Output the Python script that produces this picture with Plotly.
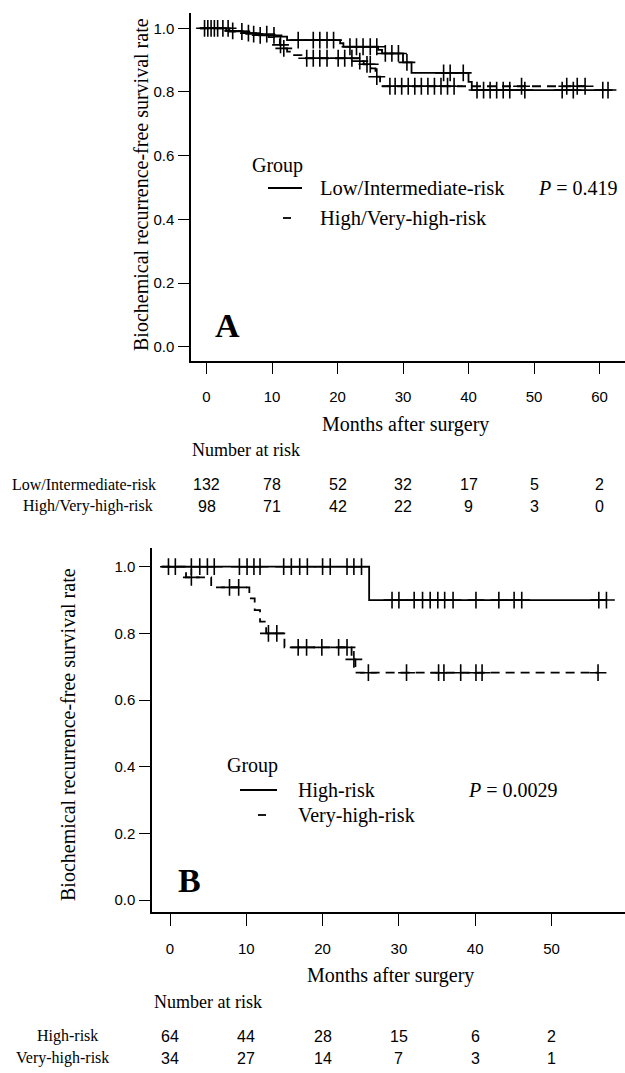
import plotly.graph_objects as go

W, H = 625, 1073

# ---------------- Panel A data ----------------
a_li_times = [-1.0, 3.0, 5.5, 8.0, 10.5, 12.3, 20.4, 20.9, 26.2, 26.8, 30.0, 31.3, 40.0, 40.5]
a_li_surv = [1.0, 0.992, 0.985, 0.978, 0.974, 0.963, 0.953, 0.942, 0.932, 0.921, 0.893, 0.860, 0.832, 0.806]
a_li_end = 62.0
a_li_cens = [-0.3, 0.7, 1.7, 2.5, 4.0, 6.4, 8.2, 10.3, 14.0, 16.3, 17.3, 18.4, 19.4,
             21.9, 22.9, 23.9, 25.0, 26.0, 27.3, 28.3, 29.3, 30.6, 36.2, 37.2, 39.2,
             41.3, 42.3, 43.3, 44.3, 45.3, 46.3, 48.6, 54.3, 56.0, 60.5, 61.3]

a_hv_times = [-1.0, 3.5, 6.5, 9.5, 11.2, 11.6, 12.3, 13.0, 14.5, 23.2, 24.0, 25.1, 25.8, 26.5]
a_hv_surv = [1.0, 0.990, 0.982, 0.972, 0.948, 0.937, 0.927, 0.916, 0.906, 0.897, 0.887, 0.874, 0.848, 0.818]
a_hv_end = 57.8
a_hv_cens = [0.2, 1.2, 3.3, 5.4, 7.2, 9.2, 11.3, 11.8, 15.3, 16.3, 17.3, 18.4, 20.1, 21.1, 22.2,
             23.4, 24.5, 25.0, 26.0, 28.0, 28.8, 29.8, 30.8, 31.8, 32.8, 33.8, 34.8, 35.8,
             36.8, 37.8, 48.1, 55.0, 56.6, 57.8]

a_risk_times = [0, 10, 20, 30, 40, 50, 60]
a_risk_li = [132, 78, 52, 32, 17, 5, 2]
a_risk_hv = [98, 71, 42, 22, 9, 3, 0]

# ---------------- Panel B data ----------------
b_h_times = [-1.1, 26.1]
b_h_surv = [1.0, 0.90]
b_h_end = 57.2
b_h_cens = [-0.2, 0.7, 2.8, 3.9, 4.9, 5.8, 9.1, 10.1, 11.0, 11.8, 14.9, 15.9, 17.0, 18.0,
            20.0, 21.0, 23.2, 24.1, 25.1, 29.1, 30.0, 32.0, 33.1, 34.1, 35.1, 36.0, 37.1,
            40.1, 43.1, 45.1, 46.1, 56.2, 57.2]

b_v_times = [-1.1, 2.1, 5.4, 10.4, 11.1, 11.8, 12.6, 15.0, 23.8, 24.3]
b_v_surv = [1.0, 0.968, 0.938, 0.905, 0.870, 0.835, 0.800, 0.758, 0.722, 0.682]
b_v_end = 56.1
b_v_cens = [2.8, 7.8, 9.0, 12.9, 14.0, 16.8, 17.9, 19.9, 22.1, 23.2, 24.1, 26.0, 31.0,
            35.2, 35.9, 38.1, 40.1, 40.9, 56.1]

b_risk_times = [0, 10, 20, 30, 40, 50]
b_risk_h = [64, 44, 28, 15, 6, 2]
b_risk_v = [34, 27, 14, 7, 3, 1]

y_ticks = [0.0, 0.2, 0.4, 0.6, 0.8, 1.0]
y_ticklabels = ["0.0", "0.2", "0.4", "0.6", "0.8", "1.0"]

SERIF = "Liberation Serif"
SANS = "Liberation Sans"


def px(x):
    return x / W


def py(y):
    return 1 - y / H


def step_at(times, surv, t):
    v = surv[0]
    for ti, si in zip(times, surv):
        if ti <= t:
            v = si
    return v


fig = go.Figure()


def add_curve(times, surv, end, cens, dash, xa, ya):
    fig.add_trace(go.Scatter(
        x=list(times) + [end], y=list(surv) + [surv[-1]], mode="lines",
        line=dict(shape="hv", color="black", width=1.8, dash=dash),
        xaxis=xa, yaxis=ya, showlegend=False, hoverinfo="skip"))
    fig.add_trace(go.Scatter(
        x=cens, y=[step_at(times, surv, t) for t in cens], mode="markers",
        marker=dict(symbol="cross-thin", size=12, line=dict(width=1.6, color="black"), color="black"),
        xaxis=xa, yaxis=ya, showlegend=False, hoverinfo="skip"))


DASH = "9px,6px"
add_curve(a_li_times, a_li_surv, a_li_end, a_li_cens, "solid", "x", "y")
add_curve(a_hv_times, a_hv_surv, a_hv_end, a_hv_cens, DASH, "x", "y")
add_curve(b_h_times, b_h_surv, b_h_end, b_h_cens, "solid", "x2", "y2")
add_curve(b_v_times, b_v_surv, b_v_end, b_v_cens, DASH, "x2", "y2")

axis_common = dict(showgrid=False, zeroline=False, showline=True, linecolor="black",
                   linewidth=1.5, ticks="outside", tickcolor="black", tickwidth=1.3,
                   tickfont=dict(family=SANS, size=15, color="black"))

# Panel A axes: pixel geometry
A_left, A_bottom, A_top = 191, 361, 13
A_x0px, A_xscale = 206.5, 6.55   # px of month 0, px per month
A_y1px, A_y0px = 28.3, 346.7     # px of 1.0 and 0.0
a_xr = [(A_left - A_x0px) / A_xscale, (W - A_x0px) / A_xscale]
a_ys = A_y0px - A_y1px
a_yr = [(A_y0px - A_bottom) / a_ys, (A_y0px - A_top) / a_ys]

B_left, B_bottom, B_top = 152, 912, 548
B_x0px, B_xscale = 170, 7.63
B_y1px, B_y0px = 566.7, 900
b_xr = [(B_left - B_x0px) / B_xscale, (W - B_x0px) / B_xscale]
b_ys = B_y0px - B_y1px
b_yr = [(B_y0px - B_bottom) / b_ys, (B_y0px - B_top) / b_ys]

fig.update_layout(
    width=W, height=H, margin=dict(l=0, r=0, t=0, b=0),
    paper_bgcolor="white", plot_bgcolor="white", showlegend=False,
    xaxis=dict(domain=[px(A_left), 1], range=a_xr, anchor="y", tickvals=a_risk_times,
               ticklen=11, ticklabelstandoff=10, **axis_common),
    yaxis=dict(domain=[py(A_bottom), py(A_top)], range=a_yr, anchor="x", tickvals=y_ticks,
               ticktext=y_ticklabels, ticklen=11, ticklabelstandoff=1, **axis_common),
    xaxis2=dict(domain=[px(B_left), 1], range=b_xr, anchor="y2", tickvals=b_risk_times,
                ticklen=12, ticklabelstandoff=10, **axis_common),
    yaxis2=dict(domain=[py(B_bottom), py(B_top)], range=b_yr, anchor="x2", tickvals=y_ticks,
                ticktext=y_ticklabels, ticklen=11, ticklabelstandoff=1, **axis_common),
)

ann = []


def text(x, y, s, size, family=SERIF, xanchor="left", angle=0, xref="paper"):
    ann.append(dict(x=x if xref != "paper" else px(x), y=py(y), xref=xref, yref="paper",
                    text=s, showarrow=False, xanchor=xanchor, yanchor="middle",
                    textangle=angle, font=dict(family=family, size=size, color="black")))


shapes = []


def seg(x0, x1, y, dash="solid"):
    shapes.append(dict(type="line", xref="paper", yref="paper", x0=px(x0), x1=px(x1),
                       y0=py(y), y1=py(y), line=dict(color="black", width=1.8, dash=dash)))


# ---- Panel A annotations ----
text(141, 185, "Biochemical recurrence-free survival rate", 20, angle=-90, xanchor="center")
text(250, 165, "Group", 20)
seg(268, 302, 188)
text(318, 188, "Low/Intermediate-risk", 20.5)
text(536, 188, "<i>P</i> = 0.419", 20)
seg(283, 291, 218)
text(318, 218, "High/Very-high-risk", 20.5)
text(227, 325, "<b>A</b>", 34, xanchor="center")
text(405, 424, "Months after surgery", 20, xanchor="center")
text(190, 450, "Number at risk", 18)
text(84.5, 484, "Low/Intermediate-risk", 16, xanchor="center")
text(87.5, 506, "High/Very-high-risk", 16, xanchor="center")
for t, n1, n2 in zip(a_risk_times, a_risk_li, a_risk_hv):
    text(t, 484, str(n1), 16, family=SANS, xanchor="center", xref="x")
    text(t, 506, str(n2), 16, family=SANS, xanchor="center", xref="x")

# ---- Panel B annotations ----
text(68, 735, "Biochemical recurrence-free survival rate", 20, angle=-90, xanchor="center")
text(225, 765, "Group", 20)
seg(240, 277, 790)
text(296, 790, "High-risk", 20)
text(466, 790, "<i>P</i> = 0.0029", 20)
seg(258, 266, 815)
text(296, 815, "Very-high-risk", 20)
text(189, 880, "<b>B</b>", 34, xanchor="center")
text(390, 975, "Months after surgery", 20, xanchor="center")
text(152, 1002, "Number at risk", 18)
text(67.5, 1036, "High-risk", 16, xanchor="center")
text(62, 1058, "Very-high-risk", 16, xanchor="center")
for t, n1, n2 in zip(b_risk_times, b_risk_h, b_risk_v):
    text(t, 1036, str(n1), 16, family=SANS, xanchor="center", xref="x2")
    text(t, 1058, str(n2), 16, family=SANS, xanchor="center", xref="x2")

fig.update_layout(annotations=ann, shapes=shapes)
fig.write_html("out.html", config={"displayModeBar": False},
               post_script="document.body.style.margin='0';document.body.style.overflow='hidden';")
